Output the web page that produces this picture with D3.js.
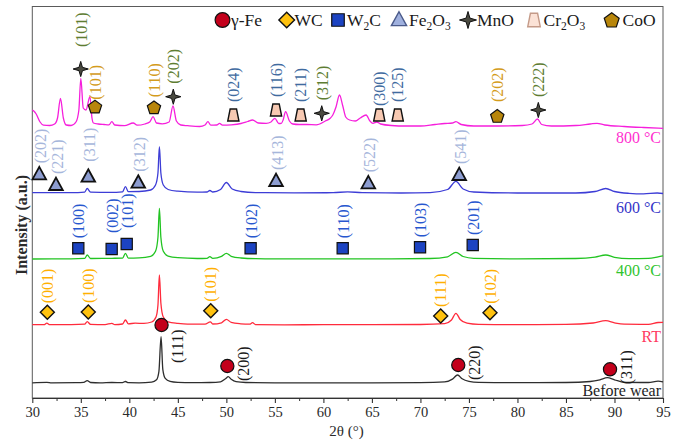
<!DOCTYPE html>
<html>
<head>
<meta charset="utf-8">
<script src="https://cdn.jsdelivr.net/npm/d3@7"></script>
<style>
  html, body { margin: 0; padding: 0; background: #fff; }
  svg { display: block; font-family: "Liberation Serif", "Times New Roman", serif; }
</style>
</head>
<body>
<svg id="chart" width="684" height="440"></svg>
<script>
// ---------------- data ----------------
// x axis: diffraction angle 2θ (degrees)
const xTicks = [30, 35, 40, 45, 50, 55, 60, 65, 70, 75, 80, 85, 90, 95];
const xMinorTicks = [32.5, 37.5, 42.5, 47.5, 52.5, 57.5, 62.5, 67.5, 72.5, 77.5, 82.5, 87.5, 92.5];

// stacked patterns (bottom to top) and their vertical offsets in a.u.
const patternNames = ["Before wear", "RT", "400 °C", "600 °C", "800 °C"];
const patternOffsets = [14.7, 73, 138.7, 205, 272];

// diffraction profiles: [2θ, intensity above own baseline, a.u.]
const beforeWear = [
  [30,0.5],[31.5,0.9],[32,0.4],[34.5,0.6],[35.3,0.9],[35.66,2.6],[36,0.8],[37,0.4],[38.2,0.8],
  [39.3,0.7],[39.6,1.8],[39.9,0.6],[41,0.5],[42.3,1.2],[42.8,3.5],[43.05,12],[43.27,46.6],
  [43.45,14],[43.7,5],[44.2,2],[45,1],[46.5,0.6],[48.3,0.8],[49.4,1.5],[49.9,4.5],[50.2,6.6],
  [50.5,4],[51,1.6],[52,0.8],[55,0.5],[60,0.4],[65,0.5],[70,0.7],[72.5,1.4],[73.3,4.2],
  [73.83,8.3],[74.3,4.5],[75,2],[76,1],[80,0.6],[85,0.8],[87.5,1.8],[88.5,3.5],[89.26,5.6],
  [90,3.5],[91,1],[93.5,0.8],[94.5,2.2],[95,1.5]
];
const roomTemp = [
  [30,0.3],[31.2,0.3],[31.5,1.8],[31.8,0.3],[34,0.4],[35.4,0.8],[35.66,3.4],[36,0.6],[37.5,0.4],
  [38.2,1.7],[38.5,0.4],[39.3,1],[39.6,5],[39.9,1.2],[40.6,1.8],[41.5,1.6],[42.3,3],[42.75,8],
  [42.95,20],[43.1,50],[43.25,22],[43.5,8],[44,3.2],[45,1.6],[46,0.8],[47.8,0.8],[48.35,3.2],
  [48.6,1],[49.5,2.2],[50,5.7],[50.5,2.6],[51.5,1.2],[52.4,0.8],[52.7,2.3],[53,0.4],[56,0.2],
  [60,0.3],[65,0.3],[70,0.5],[72.5,1.4],[73.2,5],[73.66,11.7],[74.1,5.5],[74.8,1.8],[76,0.6],
  [80,0.4],[85,0.6],[87.8,2],[89.1,4.3],[90,2.2],[91,0.8],[93.5,0.6],[94.5,2.5],[95,2.7]
];
const worn400 = [
  [30,0.3],[32,0.5],[34,0.5],[35.4,0.9],[35.66,4.3],[36,0.8],[38.2,1],[39.3,1.2],[39.6,6],
  [39.9,1.2],[41,1.4],[42.2,3],[42.7,8],[42.95,22],[43.1,51],[43.25,22],[43.5,8],[44,3.2],
  [45,1.6],[47,0.8],[48,1],[48.3,2.6],[48.6,1],[49.5,3],[50,6],[50.5,3],[51.5,1.3],[53,0.6],
  [57,0.4],[62,0.4],[67,0.5],[71,0.8],[72.8,2.5],[73.66,7],[74.4,2.8],[75.5,1],[80,0.5],
  [86,0.8],[88,2.2],[89.1,4.3],[90,2],[91.5,0.7],[93.5,0.9],[94.5,2.5],[95,3.5]
];
const worn600 = [
  [30,0.3],[32,0.4],[34,0.4],[35.4,0.9],[35.66,4.5],[36,0.9],[38,0.6],[39.3,1.2],[39.6,6.3],
  [39.9,1.4],[41,1.5],[42.2,3],[42.7,8],[42.95,20],[43.1,46.3],[43.25,20],[43.5,8],[44,3.5],
  [45,1.8],[47,0.8],[48,1],[48.3,2.5],[48.6,1],[49.4,3.5],[50,10.5],[50.6,4],[51.5,1.5],
  [53,0.4],[57,0.2],[61,0.3],[62.5,1.2],[64,0.3],[68,0],[71,0.4],[72.8,3.5],[73.66,11.6],
  [74.4,4],[75.5,1],[80,0],[86,0],[88,1.5],[89.1,4.5],[90,1.5],[91.5,-0.3],[93,-0.8],
  [94.4,0],[95,-0.5]
];
const worn800 = [
  [30,16],[30.15,15],[30.4,12],[30.8,4],[31.15,0.8],[31.8,0.5],[32.3,2],[32.6,8],[32.9,27.7],
  [33.2,8],[33.5,1],[34,0.5],[34.5,4],[34.8,16],[35,47.7],[35.25,18],[35.53,16],[35.94,29.3],
  [36.15,8],[36.3,3],[36.8,2],[37.4,1.5],[37.9,1.2],[38.2,4.3],[38.5,1],[39.5,0.3],[40.4,3],
  [40.8,0.8],[41.6,2],[42.1,4],[42.45,9.3],[42.8,3],[43.4,2.2],[44.1,4],[44.5,20],[44.85,5],
  [45.3,1],[46,0.3],[47.25,-0.5],[47.8,1],[48.1,4.3],[48.4,0.8],[49,1],[49.3,2.7],[49.6,0.8],
  [50.5,1.2],[51.5,2.5],[52.2,4.5],[52.7,6],[53.3,3],[54.1,2.7],[54.6,4],[55,7.7],[55.4,2.5],
  [55.66,2.7],[55.85,6],[56.1,14.3],[56.5,5],[56.85,2],[57.5,1.5],[58.3,1.5],[59.26,1.2],
  [60.2,5],[60.7,7.7],[60.97,11],[61.3,19],[61.66,31],[62,20],[62.3,9],[62.7,6],[63.3,5],
  [63.8,8],[64.4,11],[64.8,5],[65.1,2.7],[65.5,4],[65.9,2],[67,0.5],[68.5,0],[70,0],[71.5,1.5],
  [72.5,2.5],[73.3,3],[73.66,4.3],[74.2,1.5],[75.5,0],[78,0],[80.5,0.5],[81.5,2],[82.06,7],
  [82.5,1.5],[83.5,0],[86,0.5],[87.5,2],[88.2,2.7],[89,1],[91,-0.5],[93,-1.5],[95,-2.3]
];
const patterns = [beforeWear, roomTemp, worn400, worn600, worn800];

// indexed reflections: [hkl, 2θ, marker height (a.u.)]
const gammaFe = [["(111)",43.32,73],["(200)",50.1,32],["(220)",73.9,33],["(311)",89.54,28.7]];
const wc = [["(001)",31.55,85.7],["(100)",35.77,86],["(101)",48.39,87.3],["(111)",72.09,82],["(102)",77.17,85.3]];
const w2c = [["(100)",34.74,149.7],["(002)",38.18,149],["(101)",39.73,154],["(102)",52.5,149.7],
             ["(110)",61.99,149.7],["(103)",69.96,150.7],["(201)",75.39,153]];
const fe2o3 = [["(202)",30.72,223.7],["(221)",32.44,213],["(311)",35.77,221.3],["(312)",40.92,215.3],
               ["(413)",55.12,217],["(522)",64.63,214.7],["(541)",74.0,223]];
const mno = [["(101)",34.99,329],["(202)",44.53,301.3],["(312)",59.83,284.7],["(222)",82.15,288]];
const cr2o3 = [["(024)",50.72,283],["(116)",55.12,288],["(211)",57.66,283],["(300)",65.76,283],["(125)",67.66,283]];
const coo = [["(101)",36.46,291.3],["(110)",42.54,290.7],["(202)",77.92,282]];

// ---------------- layout ----------------
const W = 684, H = 440;
const plot = { left: 32.3, right: 663, top: 6.5, bottom: 398 };

const x = d3.scaleLinear().domain([30, 95]).range([plot.left, plot.right]);
const y = d3.scaleLinear().domain([0, 391.5]).range([plot.bottom, plot.top]);

const svg = d3.select("#chart");

const lineColors = ["#2e2e2e", "#ff2b3c", "#22c422", "#3d3dd6", "#f61fdc"];
const nameColors = ["#1e1e1e", "#ff3a60", "#2fc42f", "#3535c8", "#ff30d0"];
const nameBaselines = [396, 341.5, 275.5, 213, 143];

// marker shapes, centred at the origin
function polygon(pts) { return "M" + pts.map(p => p.join(",")).join("L") + "Z"; }
function shapePath(kind, k) {
  switch (kind) {
    case "circle": {
      const r = 6.6 * k;
      return `M${-r},0A${r},${r} 0 1,0 ${r},0A${r},${r} 0 1,0 ${-r},0Z`;
    }
    case "diamond": { const s = 7 * k; return polygon([[0,-s],[s,0],[0,s],[-s,0]]); }
    case "square": { const s = 5.6 * k; return polygon([[-s,-s],[s,-s],[s,s],[-s,s]]); }
    case "triangle": return polygon([[0,-7.4*k],[6.8*k,5*k],[-6.8*k,5*k]]);
    case "star": {
      const ro = 7.6 * k, ri = 2.4 * k, pts = [];
      for (let i = 0; i < 8; i++) {
        const a = -Math.PI / 2 + i * Math.PI / 4, r = i % 2 ? ri : ro;
        pts.push([r * Math.cos(a), r * Math.sin(a)]);
      }
      return polygon(pts);
    }
    case "trapezoid": return polygon([[-3.2*k,-6*k],[3.2*k,-6*k],[5.6*k,6*k],[-5.6*k,6*k]]);
    case "pentagon": {
      const r = 7 * k, pts = [];
      for (let i = 0; i < 5; i++) {
        const a = -Math.PI / 2 + i * 2 * Math.PI / 5;
        pts.push([r * Math.cos(a), r * Math.sin(a) + 0.6 * k]);
      }
      return polygon(pts);
    }
  }
}

// phase styles; label gap = px from marker centre to the label's lower end
const phases = [
  { name: "γ-Fe", sub: null, refl: gammaFe, shape: "circle", fill: "#c3001b", stroke: "#111", sw: 1.2, text: "#1a1a1a", dx: 16, gap: -15 },
  { name: "WC", sub: null, refl: wc, shape: "diamond", fill: "#ffc20f", stroke: "#111", sw: 1.4, text: "#ffb000", dx: 0, gap: 9 },
  { name: "W2C", sub: ["W", "2", "C"], refl: w2c, shape: "square", fill: "#1c43c2", stroke: "#111", sw: 1.2, text: "#2757cf", dx: 0.5, gap: 10 },
  { name: "Fe2O3", sub: ["Fe", "2", "O", "3"], refl: fe2o3, shape: "triangle", fill: "#8d9dd1", stroke: "#111", sw: 1.8, text: "#a6b6db", dx: 1.5, gap: 11 },
  { name: "MnO", sub: null, refl: mno, shape: "star", fill: "#4a4a40", stroke: "#111", sw: 1, text: "#5e7d32", dx: 0.5, gap: 13 },
  { name: "Cr2O3", sub: ["Cr", "2", "O", "3"], refl: cr2o3, shape: "trapezoid", fill: "#f7c9b2", stroke: "#111", sw: 1.4, text: "#3f6b9f", dx: 0, gap: 13 },
  { name: "CoO", sub: null, refl: coo, shape: "pentagon", fill: "#b8860b", stroke: "#111", sw: 1.2, text: "#d49c1c", dx: 0, gap: 10 }
];
// individual label shifts (px, positive = higher)
const labelShift = {
  "γ-Fe (111)": -23, "MnO (101)": 9, "CoO (101)": -3, "CoO (202)": 4,
  "Fe2O3 (311)": 4, "W2C (002)": 6, "W2C (101)": 6, "Cr2O3 (300)": -4
};

// ---------------- frame & axes ----------------
svg.append("rect")
  .attr("x", plot.left).attr("y", plot.top)
  .attr("width", plot.right - plot.left).attr("height", plot.bottom - plot.top)
  .attr("fill", "none").attr("stroke", "#5a5a5a").attr("stroke-width", 1);

const xAxis = svg.append("g")
  .attr("transform", `translate(0,${plot.bottom})`)
  .call(d3.axisBottom(x).tickValues(xTicks).tickSize(5).tickSizeOuter(0).tickPadding(4)
        .tickFormat(d3.format("d")));
xAxis.select(".domain").attr("stroke", "#333").attr("stroke-width", 1.2);
xAxis.selectAll(".tick line").attr("stroke", "#333").attr("stroke-width", 1.1);
xAxis.selectAll(".tick text")
  .attr("font-family", "Liberation Serif, serif").attr("font-size", 14.5).attr("fill", "#2a2a2a");

const xMinor = svg.append("g")
  .attr("transform", `translate(0,${plot.bottom})`)
  .call(d3.axisBottom(x).tickValues(xMinorTicks).tickSize(3).tickSizeOuter(0).tickFormat(""));
xMinor.select(".domain").remove();
xMinor.selectAll(".tick line").attr("stroke", "#333");

svg.append("text")
  .attr("x", 346.5).attr("y", 436)
  .attr("text-anchor", "middle").attr("font-size", 15).attr("fill", "#2a2a2a")
  .text("2θ (°)");

svg.append("text")
  .attr("transform", "translate(21,225) rotate(-90)")
  .attr("text-anchor", "middle").attr("dy", "0.35em")
  .attr("font-size", 16).attr("font-weight", "bold").attr("fill", "#2a2a2a")
  .text("Intensity (a.u.)");

// ---------------- patterns ----------------
patterns.forEach((pts, i) => {
  const off = patternOffsets[i];
  const line = d3.line()
    .x(d => x(d[0]))
    .y(d => y(d[1] + off))
    .curve(d3.curveMonotoneX);
  svg.append("path")
    .datum(pts)
    .attr("d", line)
    .attr("fill", "none")
    .attr("stroke", lineColors[i])
    .attr("stroke-width", 1.3)
    .attr("stroke-linejoin", "round");
  svg.append("text")
    .attr("x", 661).attr("y", nameBaselines[i])
    .attr("text-anchor", "end").attr("font-size", 16)
    .attr("fill", nameColors[i])
    .text(patternNames[i]);
});

// ---------------- reflection markers & hkl labels ----------------
phases.forEach(ph => {
  ph.refl.forEach(([hkl, tt, h]) => {
    const px = x(tt), py = y(h);
    svg.append("path")
      .attr("d", shapePath(ph.shape, 1))
      .attr("transform", `translate(${px},${py})`)
      .attr("fill", ph.fill).attr("stroke", ph.stroke).attr("stroke-width", ph.sw)
      .attr("stroke-linejoin", "miter");
    const shift = labelShift[`${ph.name} ${hkl}`] || 0;
    const ly = py - ph.gap - shift;
    svg.append("text")
      .attr("transform", `translate(${px + ph.dx},${ly}) rotate(-90)`)
      .attr("text-anchor", "start").attr("dy", "0.35em")
      .attr("font-size", 16).attr("fill", ph.text)
      .text(hkl);
  });
});

// ---------------- legend ----------------
const legendSymbolX = [222.5, 286.7, 338, 399, 468, 534, 611.7];
const legendTextX = [231, 294.5, 347, 409, 477, 543.5, 622.5];
const legendY = 20;
phases.forEach((ph, i) => {
  svg.append("path")
    .attr("d", shapePath(ph.shape, 1.12))
    .attr("transform", `translate(${legendSymbolX[i]},${legendY})`)
    .attr("fill", ph.shape === "trapezoid" ? "#fbe2d6" : (ph.shape === "triangle" ? "#9fb0de" : ph.fill))
    .attr("stroke", ph.shape === "trapezoid" ? "#c49a88" : (ph.shape === "triangle" ? "#4a5a8a" : ph.stroke))
    .attr("stroke-width", ph.shape === "trapezoid" || ph.shape === "triangle" ? 1.4 : ph.sw);
  const t = svg.append("text")
    .attr("x", legendTextX[i]).attr("y", legendY + 6.3)
    .attr("font-size", 17.5).attr("fill", "#1a1a1a");
  if (ph.sub) {
    ph.sub.forEach((part, j) => {
      const isSub = /^\d$/.test(part);
      t.append("tspan")
        .attr("font-size", isSub ? 11.5 : 17.5)
        .attr("dy", isSub ? 4 : (j > 0 ? -4 : 0))
        .text(part);
    });
  } else {
    t.text(ph.name);
  }
});
</script>
</body>
</html>
